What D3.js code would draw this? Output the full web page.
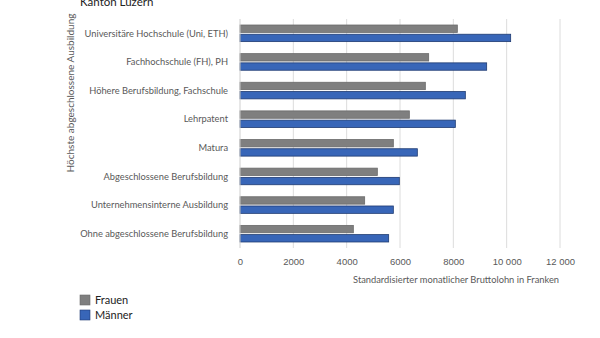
<!DOCTYPE html>
<html>
<head>
<meta charset="utf-8">
<script src="https://cdn.jsdelivr.net/npm/d3@7"></script>
<style>
  html, body { margin: 0; padding: 0; background: #fff; }
  svg { display: block; font-family: "Source Sans Pro", Lato, "Open Sans", sans-serif; }
</style>
</head>
<body>
<svg id="chart" width="600" height="338"></svg>
<script>
// Standardisierter monatlicher Bruttolohn nach höchster Ausbildung, Kanton Luzern
const categories = [
  "Universitäre Hochschule (Uni, ETH)",
  "Fachhochschule (FH), PH",
  "Höhere Berufsbildung, Fachschule",
  "Lehrpatent",
  "Matura",
  "Abgeschlossene Berufsbildung",
  "Unternehmensinterne Ausbildung",
  "Ohne abgeschlossene Berufsbildung"
];
const frauen = [8150, 7075, 6950, 6350, 5750, 5150, 4675, 4250];
const maenner = [10150, 9250, 8450, 8075, 6650, 5975, 5750, 5575];
const seriesNames = ["Frauen", "Männer"];
const tickValues = [0, 2000, 4000, 6000, 8000, 10000, 12000];
const tickLabels = ["0", "2000", "4000", "6000", "8000", "10 000", "12 000"];

const colors = { Frauen: "#7f7f7f", "Männer": "#3866b8" };
const strokes = { Frauen: "#6a6a6a", "Männer": "#1f3b72" };

const svg = d3.select("#chart");
const m = { left: 240, top: 19 };
const plotBottom = 248;

const x = d3.scaleLinear().domain([0, 12000]).range([m.left, 560]);
const y = d3.scaleBand().domain(categories).range([m.top, plotBottom]).paddingInner(0.42).paddingOuter(0.21);
const sub = d3.scaleBand().domain(seriesNames).range([0, y.bandwidth()]).paddingInner(0.2);

// Title (partially above the frame)
svg.append("text").attr("x", 80).attr("y", 6)
  .attr("font-size", 11.5).attr("fill", "#222").text("Kanton Luzern");

// Vertical gridlines
svg.append("g").selectAll("line").data(tickValues.slice(1)).join("line")
  .attr("x1", d => x(d)).attr("x2", d => x(d))
  .attr("y1", m.top).attr("y2", plotBottom)
  .attr("stroke", "#dcdcdc").attr("stroke-width", 1);

// Bars
const data = categories.map((c, i) => ({ c, vals: [
  { s: "Frauen", v: frauen[i] }, { s: "Männer", v: maenner[i] }
]}));
const grp = svg.append("g").selectAll("g").data(data).join("g")
  .attr("transform", d => `translate(0,${y(d.c)})`);
grp.selectAll("rect").data(d => d.vals).join("rect")
  .attr("x", x(0)).attr("y", d => sub(d.s))
  .attr("width", d => x(d.v) - x(0)).attr("height", sub.bandwidth())
  .attr("fill", d => colors[d.s]).attr("stroke", d => strokes[d.s]).attr("stroke-width", 0.8);

// Baseline
svg.append("line").attr("x1", x(0)).attr("x2", x(0)).attr("y1", m.top).attr("y2", plotBottom)
  .attr("stroke", "#cfcfcf");

// Category labels
svg.append("g").selectAll("text").data(categories).join("text")
  .attr("x", 228).attr("y", d => y(d) + y.bandwidth() / 2)
  .attr("dy", "0.35em").attr("text-anchor", "end")
  .attr("font-size", 9.3).attr("fill", "#595959").text(d => d);

// X axis tick labels
const xAxis = d3.axisBottom(x).tickValues(tickValues).tickSize(0).tickPadding(0)
  .tickFormat((d, i) => tickLabels[i]);
const gx = svg.append("g").attr("transform", "translate(0,258)").call(xAxis);
gx.select(".domain").remove();
gx.selectAll("text").attr("font-size", 9.5).attr("fill", "#595959")
  .attr("font-family", "inherit");

// Axis titles
svg.append("text").attr("x", 559).attr("y", 283).attr("text-anchor", "end")
  .attr("font-size", 9.3).attr("fill", "#595959")
  .text("Standardisierter monatlicher Bruttolohn in Franken");
svg.append("text").attr("transform", "translate(74,93) rotate(-90)")
  .attr("text-anchor", "middle").attr("font-size", 10).attr("fill", "#595959")
  .text("Höchste abgeschlossene Ausbildung");

// Legend
const lg = svg.append("g").selectAll("g").data(seriesNames).join("g")
  .attr("transform", (d, i) => `translate(80,${295 + i * 15})`);
lg.append("rect").attr("width", 10).attr("height", 10)
  .attr("fill", d => colors[d]).attr("stroke", d => strokes[d]).attr("stroke-width", 0.6);
lg.append("text").attr("x", 15).attr("y", 5).attr("dy", "0.35em")
  .attr("font-size", 11).attr("fill", "#222").text(d => d);
</script>
</body>
</html>
